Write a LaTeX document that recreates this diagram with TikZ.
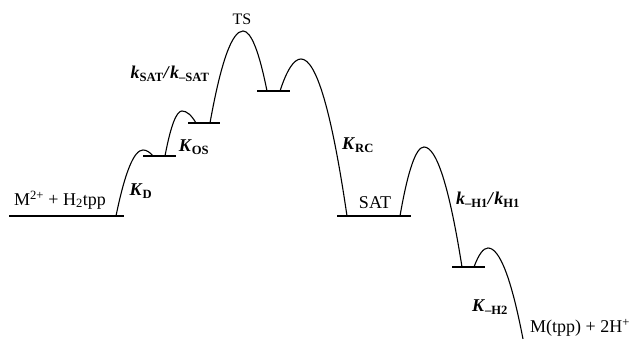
\documentclass[tikz,border=0pt]{standalone}
\usepackage{fontspec}
\setmainfont{Liberation Serif}
\usetikzlibrary{positioning,calc}
\newcommand{\bK}[1]{\textbf{\textit{K}}\textsubscript{\textbf{#1}}}
\newcommand{\bk}[1]{\textbf{\textit{k}}\textsubscript{\textbf{#1}}}

\begin{document}
\begin{tikzpicture}[x=1pt,y=1pt,line width=1.1pt,
    lbl/.style={font=\fontsize{18}{21}\selectfont,inner sep=0pt}]
  \useasboundingbox (0,0) rectangle (641,339);
  % energy levels
  \foreach \n/\a/\b/\y in {l0/9/124/123,l1/143/176/183,l2/188/220/216,
      l3/257/290/248,l4/337/411/123,l5/452/485/72}{
    \coordinate (\n w) at (\a,\y);
    \coordinate (\n e) at (\b,\y);
    \draw (\n w) -- (\n e);
  }
  % barriers: start/peak/end, parabolic arcs
  \foreach \n/\sx/\sy/\px/\py/\ex/\ey in {1/116/123/143/189/153/183,
      2/165/183/182/228/196/216,3/210/216/243/308/267/248,
      4/280/248/301/280/347/123,5/400/123/424/192/462/72,
      6/474/72/488/91/523/0}{
    \coordinate (s\n) at (\sx,\sy);
    \coordinate (p\n) at (\px,\py);
    \coordinate (e\n) at (\ex,\ey);
    \coordinate (ql\n) at ({(\sx+\px)/2},\py);
    \coordinate (qr\n) at ({(\px+\ex)/2},\py);
    \draw (s\n) .. controls ($(s\n)!2/3!(ql\n)$) and ($(p\n)!2/3!(ql\n)$) .. (p\n)
      .. controls ($(p\n)!2/3!(qr\n)$) and ($(e\n)!2/3!(qr\n)$) .. (e\n);
  }
  % labels
  \node[lbl] (reac) at (60,139) {M\textsuperscript{2+} + H\textsubscript{2}tpp};
  \node[lbl] (kd) at (141,148) {\bK{D}};
  \node[lbl] (kos) at (194,192) {\bK{OS}};
  \node[lbl] (ksat) at (170,265) {\bk{SAT}\textbf{\textit{/}}\bk{–SAT}};
  \node[lbl,font=\fontsize{16}{19}\selectfont] (ts) at (242,320) {TS};
  \node[lbl] (krc) at (358,194) {\bK{RC}};
  \node[lbl] (sat) at (375,136) {SAT};
  \node[lbl] (kh1) at (488,139) {\bk{–H1}\textbf{\textit{/}}\bk{H1}};
  \node[lbl] (kh2) at (490,32) {\bK{–H2}};
  \node[lbl] (prod) at (580,11) {M(tpp) + 2H\textsuperscript{+}};
\end{tikzpicture}
\end{document}
